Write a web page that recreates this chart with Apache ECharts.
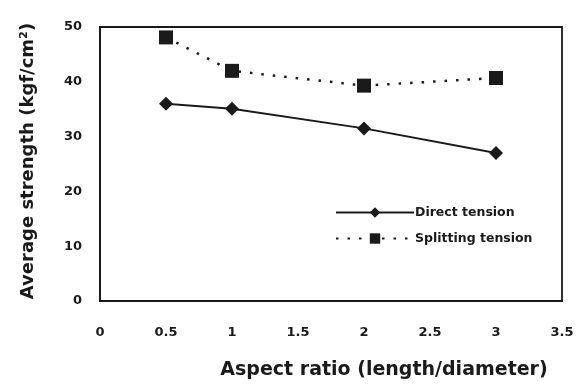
<!DOCTYPE html>
<html>
<head>
<meta charset="utf-8">
<script src="https://cdn.jsdelivr.net/npm/echarts@6/dist/echarts.min.js"></script>
<style>
  html, body { margin: 0; padding: 0; background: #fff; }
  #chart { width: 583px; height: 385px; }
</style>
</head>
<body>
<div id="chart"></div>
<script>
// Aspect ratio (length/diameter) of each specimen group
const aspectRatios = [0.5, 1, 2, 3];
// Average strength, kgf/cm²
const directTension = [36.0, 35.1, 31.5, 27.0];
const splittingTension = [48.1, 42.0, 39.3, 40.7];
const xTicks = [0, 0.5, 1, 1.5, 2, 2.5, 3, 3.5];
const yTicks = [0, 10, 20, 30, 40, 50];

const pairs = (xs, ys) => xs.map((x, i) => [x, ys[i]]);
const ink = '#1a1a1a';
const font = 'DejaVu Sans, Verdana, sans-serif';

const chart = echarts.init(document.getElementById('chart'));
chart.setOption({
  animation: false,
  backgroundColor: '#fff',
  grid: {
    left: 100, right: 21, top: 27, bottom: 81,
    show: true, borderColor: ink, borderWidth: 1.8
  },
  legend: {
    orient: 'vertical',
    left: 335, top: 206, padding: 0,
    itemWidth: 78, itemHeight: 13, itemGap: 13,
    textStyle: { fontFamily: font, fontSize: 12.5, fontWeight: 'bold', color: ink, padding: [0, 0, 0, -4] },
    data: ['Direct tension', 'Splitting tension']
  },
  xAxis: {
    type: 'value',
    min: xTicks[0], max: xTicks[xTicks.length - 1], interval: 0.5,
    name: 'Aspect ratio (length/diameter)',
    nameLocation: 'middle', nameGap: 60,
    nameTextStyle: { fontFamily: font, fontSize: 19, fontWeight: 'bold', color: ink, padding: [0, 0, 0, 106] },
    axisLine: { show: true, lineStyle: { color: ink, width: 2 } },
    axisTick: { show: false },
    splitLine: { show: false },
    axisLabel: {
      margin: 25, fontFamily: font, fontSize: 13, fontWeight: 'bold', color: ink,
      formatter: v => xTicks.includes(v) ? String(v) : ''
    }
  },
  yAxis: {
    type: 'value',
    min: yTicks[0], max: yTicks[yTicks.length - 1], interval: 10,
    name: 'Average strength (kgf/cm²)',
    nameLocation: 'middle', nameGap: 63, nameRotate: 90,
    nameTextStyle: { fontFamily: font, fontSize: 18, fontWeight: 'bold', color: ink, padding: [0, 0, 0, 6] },
    axisLine: { show: true, lineStyle: { color: ink, width: 2 } },
    axisTick: { show: false },
    splitLine: { show: false },
    axisLabel: { margin: 18, fontFamily: font, fontSize: 13, fontWeight: 'bold', color: ink }
  },
  series: [
    {
      name: 'Direct tension',
      type: 'line',
      data: pairs(aspectRatios, directTension),
      symbol: 'diamond', symbolSize: 14,
      lineStyle: { color: ink, width: 2 },
      itemStyle: { color: ink }
    },
    {
      name: 'Splitting tension',
      type: 'line',
      data: pairs(aspectRatios, splittingTension),
      symbol: 'rect', symbolSize: 14,
      lineStyle: { color: ink, width: 2.5, type: [2.5, 9] },
      itemStyle: { color: ink }
    }
  ]
});
</script>
</body>
</html>
